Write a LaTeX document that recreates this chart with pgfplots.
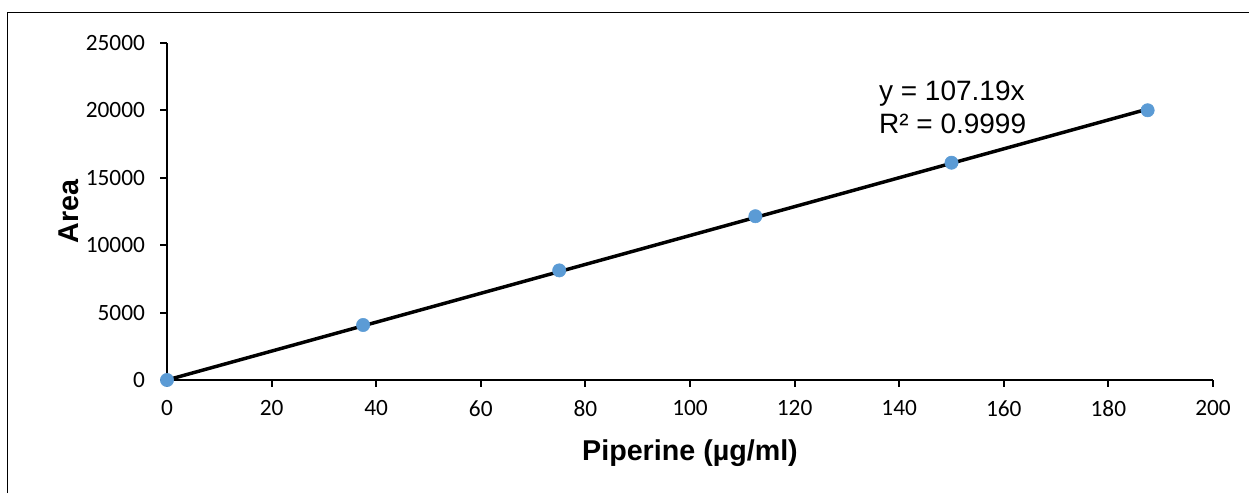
\documentclass[border=0pt]{standalone}
\usepackage{fontspec}
\setmainfont{Carlito}
\newfontfamily\arial{Liberation Sans}
\usepackage{pgfplots}
\pgfplotsset{compat=1.18}
\definecolor{ptblue}{HTML}{5B9BD5}
\begin{document}
\begin{tikzpicture}[x=0.75pt,y=0.75pt]
\useasboundingbox (-167,-113) rectangle (1082,380);
\draw[line width=0.75pt] (-159,-113) -- (-159,367) -- (1082,367);
\begin{axis}[
  at={(0,0)}, anchor=south west,
  scale only axis,
  width=784.5pt, height=252.75pt,
  xmin=0, xmax=200, ymin=0, ymax=25000,
  xtick={0,20,...,200},
  ytick={0,5000,...,25000},
  scaled y ticks=false,
  axis lines*=left,
  axis line style={line width=1.6pt, -},
  major tick style={line width=1.6pt, black},
  tick align=outside,
  major tick length=5pt,
  /pgf/number format/assume math mode=true,
  /pgf/number format/1000 sep={},
  ticklabel style={font=\fontsize{17.5}{20}\selectfont},
  xticklabel style={yshift=-7pt},
  yticklabel style={xshift=-8pt},
  xlabel={\arial\bfseries\fontsize{21.5}{24}\selectfont Piperine (µg/ml)},
  ylabel={\arial\bfseries\fontsize{21.5}{24}\selectfont Area},
  xlabel style={at={(axis description cs:0.5,0)}, anchor=base, yshift=-60pt},
  ylabel style={at={(axis description cs:0,0.5)}, anchor=base, yshift=66pt},
  clip=false,
]
\addplot[only marks, mark=*, mark size=5pt, color=ptblue] coordinates {
  (0,0) (37.5,4080) (75,8130) (112.5,12150) (150,16120) (187.5,20010)
};
\addplot[black, line width=2.6pt] coordinates {(0,0) (187.5,20098)};
\node[anchor=base west, inner sep=0pt, font=\arial\fontsize{21}{24}\selectfont] at (axis cs:136.1,20753) {y = 107.19x};
\node[anchor=base west, inner sep=0pt, font=\arial\fontsize{21}{24}\selectfont] at (axis cs:136.1,18307) {R² = 0.9999};
\end{axis}
\end{tikzpicture}
\end{document}
